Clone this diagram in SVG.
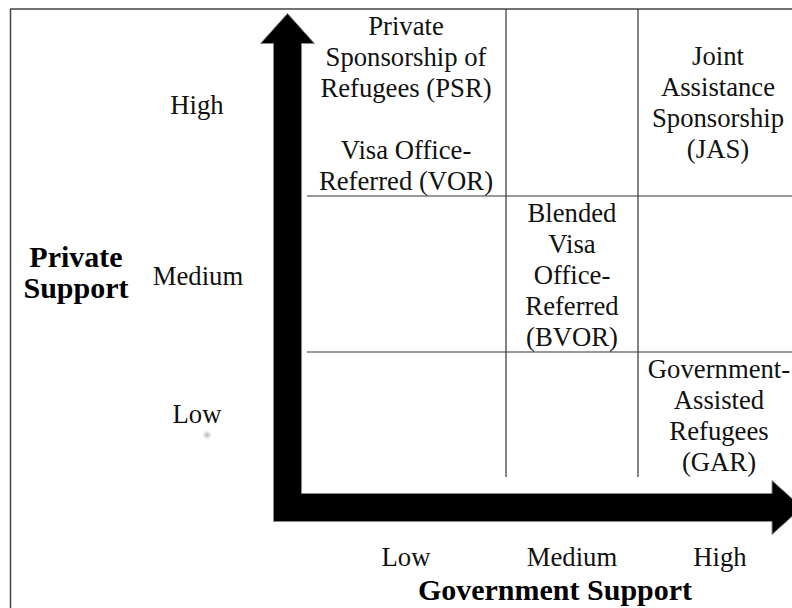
<svg xmlns="http://www.w3.org/2000/svg" width="792" height="608" viewBox="0 0 792 608">
  <style>
    .t { font-family: "Liberation Serif", "Times New Roman", serif; font-size: 26.7px; fill: #111; text-anchor: middle; }
    .b { font-family: "Liberation Serif", "Times New Roman", serif; font-size: 30px; font-weight: bold; fill: #000; text-anchor: middle; }
    .grid { stroke: #333; stroke-width: 1.2; fill: none; }
    .frame { stroke: #444; stroke-width: 1.5; fill: none; }
  </style>
  <defs>
    <filter id="blur" x="-2" y="-2" width="5" height="5">
      <feGaussianBlur stdDeviation="1.6"/>
    </filter>
  </defs>
  <rect width="792" height="608" fill="#fff"/>

  <g id="frame">
    <line class="frame" x1="10" y1="9" x2="792" y2="9"/>
    <line class="frame" x1="10.5" y1="9" x2="10.5" y2="608"/>
  </g>

  <g id="grid">
    <line class="grid" x1="506" y1="9" x2="506" y2="477"/>
    <line class="grid" x1="638" y1="9" x2="638" y2="477"/>
    <line class="grid" x1="307" y1="196" x2="792" y2="196"/>
    <line class="grid" x1="307" y1="352" x2="792" y2="352"/>
  </g>

  <g id="connectors">
    <path d="M273.5,521.5 L273.5,43.5 L260.5,43.5 L287.5,13.5 L314.5,43.5 L301.5,43.5 L301.5,493.5 L772,493.5 L772,480.5 L802,507.5 L772,534.5 L772,521.5 Z" fill="#000" stroke="#888" stroke-width="1"/>
  </g>

  <g id="y-axis-label">
    <text class="b" x="76" y="267">Private</text>
    <text class="b" x="76" y="298">Support</text>
  </g>
  <g id="y-high"><text class="t" x="197" y="114">High</text></g>
  <g id="y-medium"><text class="t" x="198" y="285">Medium</text></g>
  <g id="y-low"><text class="t" x="197" y="423">Low</text></g>
  <circle cx="207" cy="435" r="2.5" fill="#aaa" filter="url(#blur)"/>

  <g id="psr-vor">
    <text class="t" x="406" y="35">Private</text>
    <text class="t" x="406" y="66">Sponsorship of</text>
    <text class="t" x="406" y="97">Refugees (PSR)</text>
    <text class="t" x="406" y="159">Visa Office-</text>
    <text class="t" x="406" y="190">Referred (VOR)</text>
  </g>

  <g id="jas">
    <text class="t" x="718" y="65">Joint</text>
    <text class="t" x="718" y="96">Assistance</text>
    <text class="t" x="718" y="127">Sponsorship</text>
    <text class="t" x="718" y="158">(JAS)</text>
  </g>

  <g id="bvor">
    <text class="t" x="572" y="222">Blended</text>
    <text class="t" x="572" y="253">Visa</text>
    <text class="t" x="572" y="284">Office-</text>
    <text class="t" x="572" y="315">Referred</text>
    <text class="t" x="572" y="346">(BVOR)</text>
  </g>

  <g id="gar">
    <text class="t" x="719" y="378">Government-</text>
    <text class="t" x="719" y="409">Assisted</text>
    <text class="t" x="719" y="440">Refugees</text>
    <text class="t" x="719" y="471">(GAR)</text>
  </g>

  <g id="x-low"><text class="t" x="406" y="566">Low</text></g>
  <g id="x-medium"><text class="t" x="572" y="566">Medium</text></g>
  <g id="x-high"><text class="t" x="720" y="566">High</text></g>
  <g id="x-axis-label"><text class="b" x="555" y="600">Government Support</text></g>
</svg>
